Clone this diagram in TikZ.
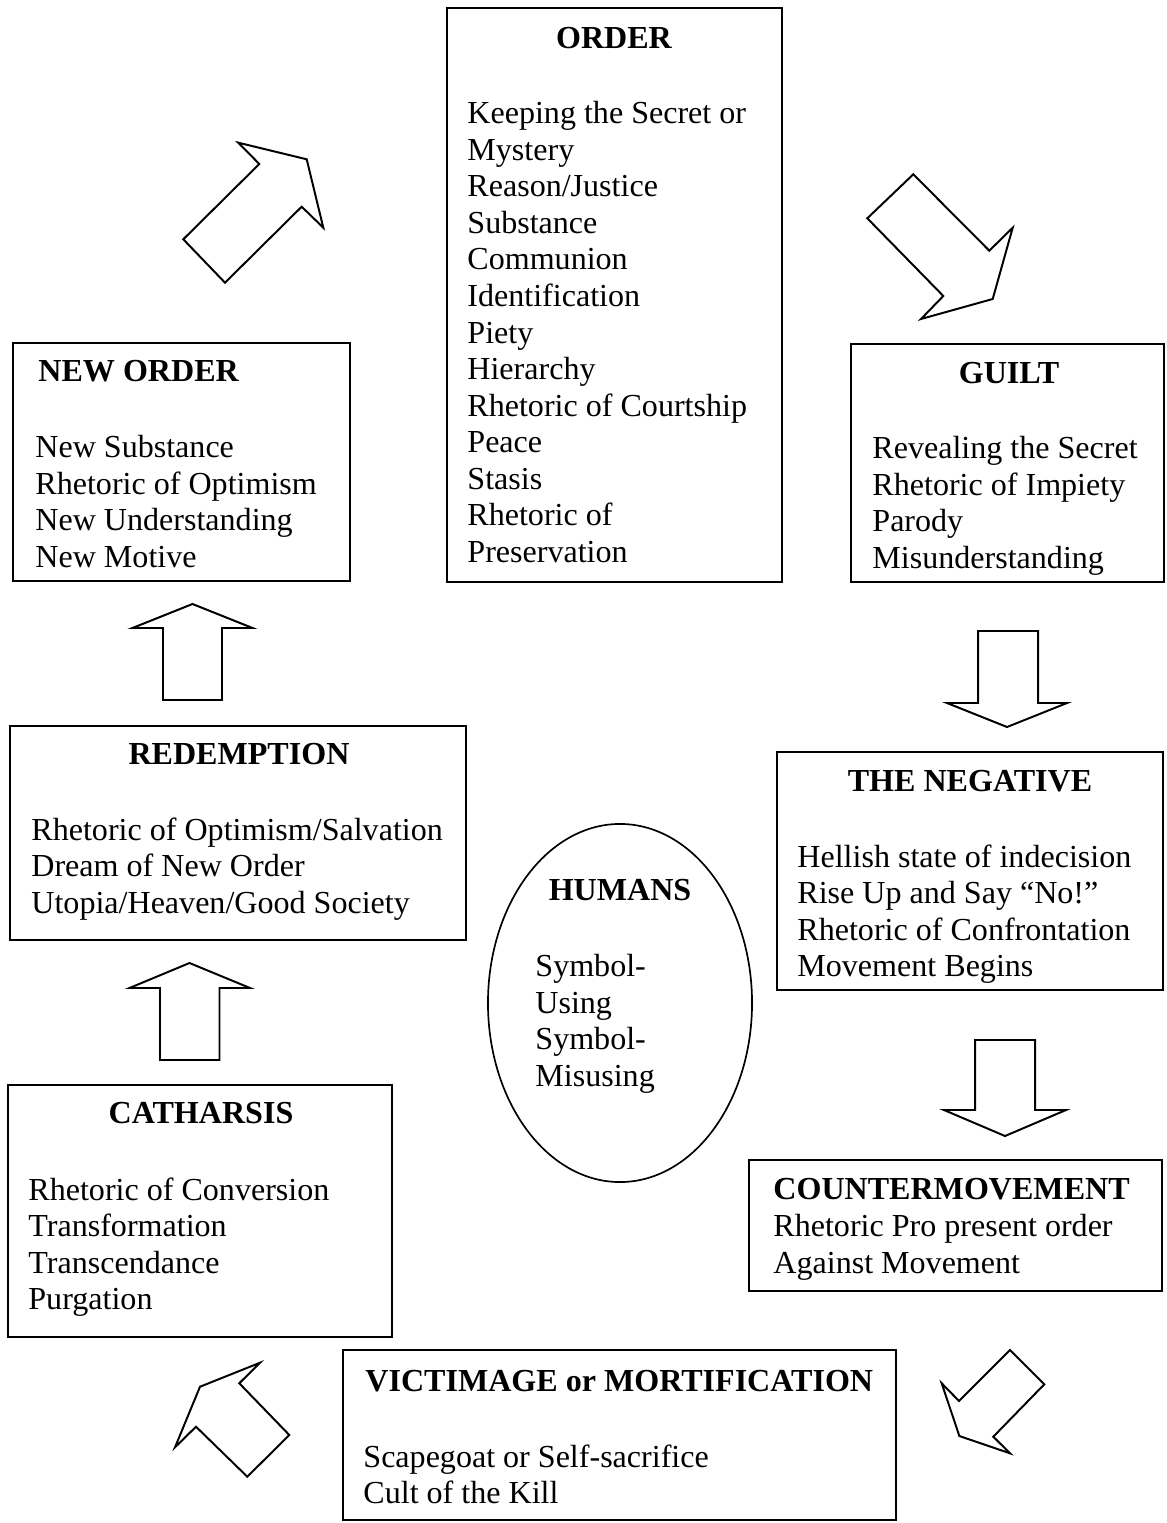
\documentclass[tikz,border=0pt]{standalone}
\usepackage{fontspec}
\setmainfont{Liberation Serif}
\usetikzlibrary{positioning,fit,shapes.geometric}

\begin{document}
\begin{tikzpicture}[x=0.025cm, y=-0.025cm, semithick]
\tikzstyle{every node}=[font=\fontsize{22.8}{26}\selectfont, inner sep=0pt]
\tikzstyle{box}=[draw=black, line width=1.2pt, inner sep=0pt]
\tikzstyle{title}=[font=\fontsize{22.8}{26}\selectfont\bfseries, anchor=base]
\tikzstyle{items}=[align=left, anchor=north west]
\tikzstyle{blockarrow}=[draw=black, line width=1.4pt, line join=miter, fill=white]
\useasboundingbox (0,0) rectangle (1166,1523);

\node[box, fit={(447,8) (782,582)}]       (order)      {};
\node[box, fit={(13,343) (350,581)}]      (neworder)   {};
\node[box, fit={(851,344) (1164,582)}]    (guilt)      {};
\node[box, fit={(10,726) (466,940)}]      (redemption) {};
\node[box, fit={(777,752) (1163,990)}]    (negative)   {};
\node[box, fit={(8,1085) (392,1337)}]     (catharsis)  {};
\node[box, fit={(749,1160) (1162,1291)}]  (counter)    {};
\node[box, fit={(343,1350) (896,1520)}]   (victim)     {};
\node[box, ellipse, minimum width=6.6cm, minimum height=8.95cm] (humans) at (620,1003) {};

\node[title] (order-t) at (614,49) {ORDER};
\node[items] (order-i) at (467,101) {Keeping the Secret or\\Mystery\\Reason/Justice\\Substance\\Communion\\Identification\\Piety\\Hierarchy\\Rhetoric of Courtship\\Peace\\Stasis\\Rhetoric of\\Preservation};

\node[title, anchor=base west] (neworder-t) at (38,382) {NEW ORDER};
\node[items] (neworder-i) at (35,435) {New Substance\\Rhetoric of Optimism\\New Understanding\\New Motive};

\node[title] (guilt-t) at (1009,384) {GUILT};
\node[items] (guilt-i) at (872,436) {Revealing the Secret\\Rhetoric of Impiety\\Parody\\Misunderstanding};

\node[title] (redemption-t) at (239,764) {REDEMPTION};
\node[items] (redemption-i) at (31,817) {Rhetoric of Optimism/Salvation\\Dream of New Order\\Utopia/Heaven/Good Society};

\node[title] (negative-t) at (970,791) {THE NEGATIVE};
\node[items] (negative-i) at (797,844) {Hellish state of indecision\\Rise Up and Say “No!”\\Rhetoric of Confrontation\\Movement Begins};

\node[title] (humans-t) at (620,900) {HUMANS};
\node[items] (humans-i) at (535,954) {Symbol-\\Using\\Symbol-\\Misusing};

\node[title] (catharsis-t) at (201,1123) {CATHARSIS};
\node[items] (catharsis-i) at (28,1177) {Rhetoric of Conversion\\Transformation\\Transcendance\\Purgation};

\node[title, anchor=base west] (counter-t) at (773,1199) {COUNTERMOVEMENT};
\node[items] (counter-i) at (773,1214) {Rhetoric Pro present order\\Against Movement};

\node[title, anchor=base west] (victim-t) at (365,1391) {VICTIMAGE or MORTIFICATION};
\node[items] (victim-i) at (363,1444) {Scapegoat or Self-sacrifice\\Cult of the Kill};

\draw[blockarrow] (306.7,159.3) -- (323.3,227.7) -- (301.7,206.7) -- (225,282.7)
  -- (183.3,239.3) -- (259.3,164) -- (238.3,142.7) -- cycle;
\draw[blockarrow] (913.3,174.3) -- (867.3,218.3) -- (943.3,296) -- (921,319)
  -- (992.7,299) -- (1012.7,227.7) -- (989.3,250.7) -- cycle;
\draw[blockarrow] (978,631) -- (1038,631) -- (1038,703) -- (1067,703)
  -- (1007,727) -- (947,703) -- (978,703) -- cycle;
\draw[blockarrow] (975,1040) -- (1035,1040) -- (1035,1110) -- (1066,1110)
  -- (1005,1136) -- (944,1110) -- (975,1110) -- cycle;
\draw[blockarrow] (1010,1350) -- (1044.3,1384.3) -- (993.3,1436.7) -- (1010,1453.3)
  -- (959.3,1436) -- (941.7,1383.3) -- (959,1401) -- cycle;
\draw[blockarrow] (260,1362.7) -- (239.3,1383.3) -- (289.3,1435) -- (247.3,1476.7)
  -- (196,1426.7) -- (175,1447.3) -- (200,1386.7) -- cycle;
\draw[blockarrow] (189.5,963) -- (250,988) -- (219.5,988) -- (219.5,1060)
  -- (160,1060) -- (160,988) -- (129.5,988) -- cycle;
\draw[blockarrow] (192.5,604) -- (252.5,628) -- (222,628) -- (222,700)
  -- (163,700) -- (163,628) -- (132.5,628) -- cycle;

\end{tikzpicture}
\end{document}
